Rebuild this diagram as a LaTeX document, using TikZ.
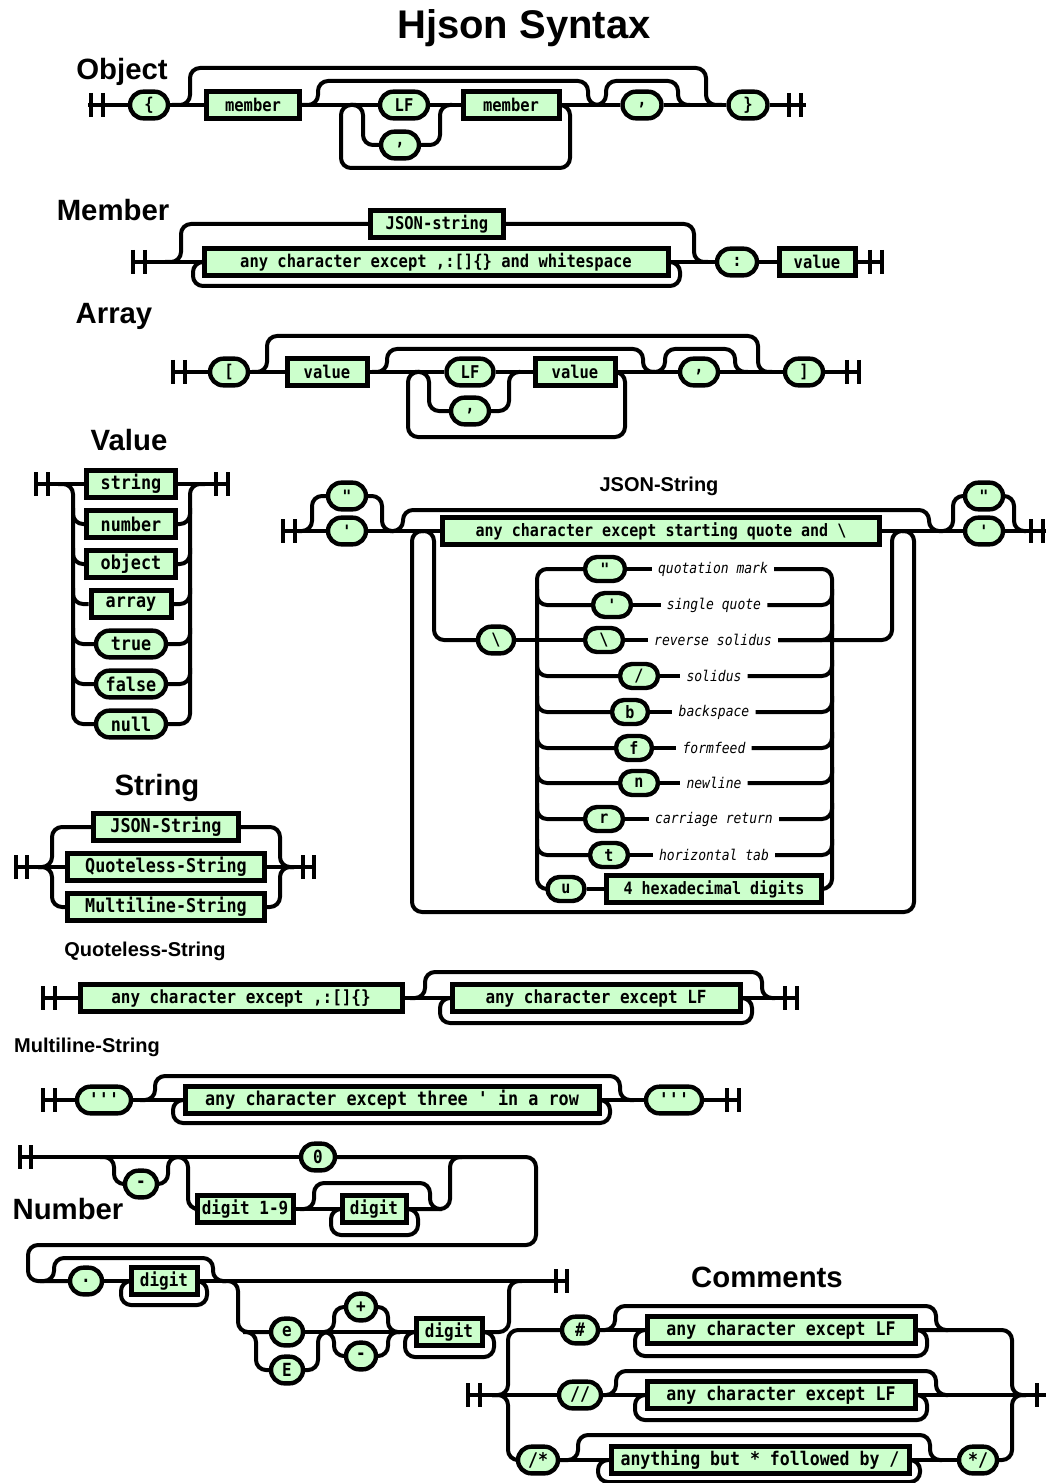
\documentclass[tikz,border=0pt]{standalone}
\usepackage{fontspec}
\setmonofont{DejaVu Sans Mono}[FakeStretch=0.88,BoldFont={DejaVu Sans Mono Bold},ItalicFont={DejaVu Sans Mono Oblique},BoldItalicFont={DejaVu Sans Mono Bold Oblique}]
\newfontfamily\hsans{Liberation Sans}
\definecolor{boxgreen}{RGB}{204,255,204}
\pgfdeclarelayer{bg}
\pgfsetlayers{bg,main}
\def\fs{13.2}
\tikzset{
  ntb/.style={draw, line width=3.75pt, fill=boxgreen, inner sep=0pt, minimum height=20.25pt, font=\ttfamily\bfseries\fontsize{\fs}{\fs}\selectfont},
  tmb/.style={draw, line width=3.3pt, fill=boxgreen, rounded corners=10pt, inner sep=0pt, minimum height=20pt, font=\ttfamily\bfseries\fontsize{\fs}{\fs}\selectfont},
  esc/.style={minimum height=18pt, rounded corners=9pt},
  lbl/.style={inner xsep=4.5pt, inner ysep=0pt, font=\ttfamily\itshape\fontsize{11.1}{12}\selectfont},
  rail/.style={line width=3pt, rounded corners=7.5pt},
  barl/.style={line width=3pt},
  ttl/.style={font=\hsans\bfseries\fontsize{22}{24}\selectfont},
  sttl/.style={font=\hsans\bfseries\fontsize{15}{17}\selectfont},
}
\newcommand\ntbox[5]{\node[ntb, minimum width={#4*0.75pt}] (#1) at (#2,#3) {#5};}
\newcommand\tmbox[5]{\node[tmb, minimum width={#4*0.75pt}] (#1) at (#2,#3) {#5};}
\newcommand\escbox[5]{\node[tmb, esc, minimum width={#4*0.75pt}] (#1) at (#2,#3) {#5};}
\newcommand\rbar[2]{\draw[barl] (#1,#2-12) -- (#1,#2+12);}
\begin{document}
\begin{tikzpicture}[x=0.75pt,y=-0.75pt]
\useasboundingbox (0,0) rectangle (1045,1483);
\begin{pgfonlayer}{bg}
\fill[white] (0,0) rectangle (1045,1483);
\end{pgfonlayer}
% titles
\node[font=\hsans\bfseries\fontsize{30}{34}\selectfont] (title) at (524,28) {Hjson Syntax};
\node[ttl] (tObj) at (122,72) {Object};
\node[ttl] (tMem) at (113,210) {Member};
\node[ttl] (tArr) at (114,316) {Array};
\node[ttl] (tVal) at (129,440) {Value};
\node[ttl] (tStr) at (157,788) {String};
\node[ttl] (tNum) at (68,1209) {Number};
\node[ttl] (tCom) at (767,1277) {Comments};
\node[sttl] (tJS) at (659,486) {JSON-String};
\node[sttl] (tQS) at (145,951) {Quoteless-String};
\node[sttl] (tMS) at (87,1047) {Multiline-String};

% ---------------- Object
\def\fs{13.2}
\tmbox{oL}{149}{105}{38}{\{}
\ntbox{oM1}{253}{105}{93}{member}
\tmbox{oLF}{404}{105}{48}{LF}
\tmbox{oC1}{400}{145}{38}{,}
\ntbox{oM2}{511}{105}{96}{member}
\tmbox{oC2}{642}{105}{39}{,}
\tmbox{oR}{748}{105}{39}{\}}
\begin{pgfonlayer}{bg}
\draw[rail] (88,105) -- (oL.west);
\draw[rail] (oL.east) -- (oM1.west);
\draw[rail] (172,105) -- (190,105) -- (190,68) -- (706,68) -- (706,105) -- (722,105);
\draw[rail] (oM1.east) -- (oLF.west);
\draw[rail] (302,105) -- (318,105) -- (318,81) -- (588,81) -- (588,105) -- (600,105);
\draw[rail] (350,105) -- (363,105) -- (363,145) -- (oC1.west);
\draw[rail] (oC1.east) -- (440,145) -- (440,105) -- (452,105);
\draw[rail] (oLF.east) -- (oM2.west);
\draw[rail] (oM2.east) -- (570,105) -- (570,168) -- (341,168) -- (341,105) -- (356,105);
\draw[rail] (oM2.east) -- (oC2.west);
\draw[rail] (596,105) -- (606,105) -- (606,81) -- (678,81) -- (678,105) -- (690,105);
\draw[rail] (oC2.east) -- (oR.west);
\draw[rail] (oR.east) -- (806,105);
\end{pgfonlayer}
\rbar{91}{105}\rbar{103}{105}\rbar{789}{105}\rbar{801}{105}

% ---------------- Member
\ntbox{mJ}{437}{224}{133}{JSON-string}
\ntbox{mA}{436}{262}{464}{any character except ,:[]\{\} and whitespace}
\tmbox{mC}{737}{262}{40}{:}
\ntbox{mV}{817}{262}{76}{value}
\begin{pgfonlayer}{bg}
\draw[rail] (131,262) -- (mA.west);
\draw[rail] (165,262) -- (181,262) -- (181,224) -- (mJ.west);
\draw[rail] (mJ.east) -- (694,224) -- (694,262) -- (708,262);
\draw[rail] (mA.east) -- (680,262) -- (680,286) -- (193,286) -- (193,262) -- (mA.west);
\draw[rail] (mA.east) -- (mC.west);
\draw[rail] (mC.east) -- (mV.west);
\draw[rail] (mV.east) -- (884,262);
\end{pgfonlayer}
\rbar{133}{262}\rbar{145}{262}\rbar{870}{262}\rbar{882}{262}

% ---------------- Array
\tmbox{aL}{229}{372}{38}{[}
\ntbox{aV1}{327}{372}{80}{value}
\tmbox{aLF}{470}{372}{47}{LF}
\tmbox{aC1}{470}{411}{38}{,}
\ntbox{aV2}{575}{372}{80}{value}
\tmbox{aC2}{699}{372}{38}{,}
\tmbox{aR}{804}{372}{38}{]}
\begin{pgfonlayer}{bg}
\draw[rail] (172,372) -- (aL.west);
\draw[rail] (aL.east) -- (aV1.west);
\draw[rail] (252,372) -- (267,372) -- (267,336) -- (758,336) -- (758,372) -- (772,372);
\draw[rail] (aV1.east) -- (aLF.west);
\draw[rail] (372,372) -- (387,372) -- (387,349) -- (643,349) -- (643,372) -- (655,372);
\draw[rail] (aV2.east) -- (625,372) -- (625,437) -- (408,437) -- (408,372) -- (420,372);
\draw[rail] (415,372) -- (429,372) -- (429,411) -- (aC1.west);
\draw[rail] (aC1.east) -- (509,411) -- (509,372) -- (520,372);
\draw[rail] (aLF.east) -- (aV2.west);
\draw[rail] (aV2.east) -- (aC2.west);
\draw[rail] (652,372) -- (665,372) -- (665,349) -- (735,349) -- (735,372) -- (748,372);
\draw[rail] (aC2.east) -- (aR.west);
\draw[rail] (aR.east) -- (860,372);
\end{pgfonlayer}
\rbar{173}{372}\rbar{185}{372}\rbar{847}{372}\rbar{859}{372}

% ---------------- Value
\def\fs{14.3}
\ntbox{vS}{131}{484}{89}{string}
\ntbox{vN}{131}{524}{89}{number}
\ntbox{vO}{131}{564}{89}{object}
\ntbox{vA}{131}{604}{80}{array}
\tmbox{vT}{131}{644}{70}{true}
\tmbox{vF}{131}{684}{70}{false}
\tmbox{vU}{131}{724}{70}{null}
\begin{pgfonlayer}{bg}
\draw[rail] (36,484) -- (vS.west);
\draw[rail] (vS.east) -- (228,484);
\draw[rail] (58,484) -- (73,484) -- (73,724) -- (vU.west);
\draw[rail] (vU.east) -- (190,724) -- (190,484) -- (205,484);
\foreach \n/\y in {vN/524,vO/564,vA/604,vT/644,vF/684}{
  \draw[rail] (73,\y-16) -- (73,\y) -- (\n.west);
  \draw[rail] (\n.east) -- (190,\y) -- (190,\y-16);
}
\end{pgfonlayer}
\rbar{36}{484}\rbar{48}{484}\rbar{216}{484}\rbar{228}{484}

% ---------------- JSON-String
\def\fs{12.8}
\tmbox{jQ1}{347}{496}{38}{"}
\tmbox{jA1}{347}{531}{38}{'}
\ntbox{jAny}{661}{531}{437}{any character except starting quote and \textbackslash}
\tmbox{jBS}{496}{640}{36}{\textbackslash}
\tmbox{jQ2}{984}{496}{38}{"}
\tmbox{jA2}{984}{531}{38}{'}
\escbox{e1}{605}{569}{40}{"}
\escbox{e2}{612}{605}{38}{'}
\escbox{e3}{604}{640}{38}{\textbackslash}
\escbox{e4}{639}{676}{38}{/}
\escbox{e5}{630}{712}{36}{b}
\escbox{e6}{634}{748}{36}{f}
\escbox{e7}{639}{783}{38}{n}
\escbox{e8}{604}{819}{38}{r}
\escbox{e9}{609}{855}{38}{t}
\escbox{e10}{566}{889}{37}{u}
\ntbox{hex}{714}{889}{215}{4 hexadecimal digits}
\node[lbl] (l1) at (713,569) {quotation mark};
\node[lbl] (l2) at (714,605) {single quote};
\node[lbl] (l3) at (713,640) {reverse solidus};
\node[lbl] (l4) at (714,676) {solidus};
\node[lbl] (l5) at (714,712) {backspace};
\node[lbl] (l6) at (714,748) {formfeed};
\node[lbl] (l7) at (714,783) {newline};
\node[lbl] (l8) at (714,819) {carriage return};
\node[lbl] (l9) at (714,855) {horizontal tab};
\begin{pgfonlayer}{bg}
\draw[rail] (283,531) -- (jA1.west);
\draw[rail] (298,531) -- (312,531) -- (312,496) -- (jQ1.west);
\draw[rail] (jQ1.east) -- (382,496) -- (382,531) -- (394,531);
\draw[rail] (jA1.east) -- (jAny.west);
\draw[rail] (390,531) -- (403,531) -- (403,510) -- (929,510) -- (929,531) -- (941,531);
\draw[rail] (902,531) -- (914,531) -- (914,912) -- (412,912) -- (412,531) -- (424,531);
\draw[rail] (420,531) -- (434,531) -- (434,640) -- (jBS.west);
\draw[rail] (jAny.east) -- (jA2.west);
\draw[rail] (jBS.east) -- (e3.west);
\draw[rail] (e1.west) -- (537,569) -- (537,889) -- (e10.west);
\draw[rail] (l1.east) -- (832,569) -- (832,889) -- (hex.east);
\draw[rail] (e1.east) -- (l1.west);
\draw[rail] (e10.east) -- (hex.west);
\foreach \k/\y in {2/605,3/640,4/676,5/712,6/748,7/783,8/819,9/855}{
  \draw[rail] (e\k.east) -- (l\k.west);
  \draw[rail] (l\k.east) -- (832,\y) -- (832,\y-16);
}
\foreach \k/\y in {2/605,4/676,5/712,6/748,7/783,8/819,9/855}{
  \draw[rail] (537,\y-16) -- (537,\y) -- (e\k.west);
}
\draw[rail] (l3.east) -- (892,640) -- (892,531) -- (906,531);
\draw[rail] (941,531) -- (953,531) -- (953,496) -- (jQ2.west);
\draw[rail] (jQ2.east) -- (1014,496) -- (1014,531) -- (1026,531);
\draw[rail] (jA2.east) -- (1050,531);
\end{pgfonlayer}
\rbar{283}{531}\rbar{295}{531}\rbar{1031}{531}\rbar{1043}{531}

% ---------------- String
\def\fs{14.3}
\ntbox{sJ}{166}{827}{145}{JSON-String}
\ntbox{sQ}{166}{867}{197}{Quoteless-String}
\ntbox{sM}{166}{907}{197}{Multiline-String}
\begin{pgfonlayer}{bg}
\draw[rail] (15,867) -- (sQ.west);
\draw[rail] (38,867) -- (52,867) -- (52,827) -- (sJ.west);
\draw[rail] (38,867) -- (52,867) -- (52,907) -- (sM.west);
\draw[rail] (sJ.east) -- (280,827) -- (280,867) -- (294,867);
\draw[rail] (sM.east) -- (280,907) -- (280,867) -- (294,867);
\draw[rail] (sQ.east) -- (314,867);
\end{pgfonlayer}
\rbar{16}{867}\rbar{27}{867}\rbar{303}{867}\rbar{314}{867}

% ---------------- Quoteless-String
\def\fs{13.6}
\ntbox{qA}{241}{998}{322}{any character except ,:[]\{\}}
\ntbox{qB}{596}{998}{288}{any character except LF}
\begin{pgfonlayer}{bg}
\draw[rail] (43,998) -- (qA.west);
\draw[rail] (qA.east) -- (qB.west);
\draw[rail] (410,998) -- (425,998) -- (425,972) -- (762,972) -- (762,998) -- (775,998);
\draw[rail] (qB.east) -- (752,998) -- (752,1023) -- (440,1023) -- (440,998) -- (qB.west);
\draw[rail] (qB.east) -- (797,998);
\end{pgfonlayer}
\rbar{43}{998}\rbar{55}{998}\rbar{785}{998}\rbar{797}{998}

% ---------------- Multiline-String
\def\fs{14.3}
\tmbox{mT1}{104}{1100}{54}{'''}
\ntbox{mB}{392}{1100}{414}{any character except three ' in a row}
\tmbox{mT2}{674}{1100}{56}{'''}
\begin{pgfonlayer}{bg}
\draw[rail] (43,1100) -- (mT1.west);
\draw[rail] (mT1.east) -- (mB.west);
\draw[rail] (140,1100) -- (155,1100) -- (155,1076) -- (620,1076) -- (620,1100) -- (634,1100);
\draw[rail] (mB.east) -- (610,1100) -- (610,1123) -- (173,1123) -- (173,1100) -- (mB.west);
\draw[rail] (mB.east) -- (mT2.west);
\draw[rail] (mT2.east) -- (739,1100);
\end{pgfonlayer}
\rbar{43}{1100}\rbar{55}{1100}\rbar{727}{1100}\rbar{739}{1100}

% ---------------- Number
\def\fs{13.6}
\tmbox{nZ}{318}{1157}{34}{0}
\tmbox{nMi}{141}{1184}{32}{-}
\ntbox{nD19}{245}{1209}{96}{digit 1-9}
\ntbox{nDg}{374}{1209}{64}{digit}
\tmbox{nDot}{86}{1281}{32}{.}
\ntbox{nFd}{164}{1281}{66}{digit}
\tmbox{ne}{287}{1332}{32}{e}
\tmbox{nE}{287}{1370}{32}{E}
\tmbox{nP}{361}{1307}{30}{+}
\tmbox{nM}{361}{1356}{30}{-}
\ntbox{nXd}{449}{1332}{66}{digit}
\begin{pgfonlayer}{bg}
\draw[rail] (20,1157) -- (nZ.west);
\draw[rail] (100,1157) -- (114,1157) -- (114,1184) -- (nMi.west);
\draw[rail] (nMi.east) -- (168,1184) -- (168,1157) -- (180,1157);
\draw[rail] (175,1157) -- (188,1157) -- (188,1209) -- (nD19.west);
\draw[rail] (nD19.east) -- (nDg.west);
\draw[rail] (300,1209) -- (314,1209) -- (314,1183) -- (430,1183) -- (430,1209) -- (442,1209);
\draw[rail] (nDg.east) -- (418,1209) -- (418,1235) -- (331,1235) -- (331,1209) -- (nDg.west);
\draw[rail] (nDg.east) -- (450,1209) -- (450,1157) -- (462,1157);
\draw[rail] (nZ.east) -- (536,1157) -- (536,1245) -- (28,1245) -- (28,1281) -- (nDot.west);
\draw[rail] (40,1281) -- (54,1281) -- (54,1258) -- (213,1258) -- (213,1281) -- (226,1281);
\draw[rail] (nDot.east) -- (nFd.west);
\draw[rail] (nFd.east) -- (207,1281) -- (207,1305) -- (121,1305) -- (121,1281) -- (nFd.west);
\draw[rail] (nFd.east) -- (567,1281);
\draw[rail] (222,1281) -- (238,1281) -- (238,1332) -- (ne.west);
\draw[rail] (243,1332) -- (256,1332) -- (256,1370) -- (nE.west);
\draw[rail] (nE.east) -- (318,1370) -- (318,1332) -- (330,1332);
\draw[rail] (ne.east) -- (nXd.west);
\draw[rail] (322,1332) -- (334,1332) -- (334,1307) -- (nP.west);
\draw[rail] (322,1332) -- (334,1332) -- (334,1356) -- (nM.west);
\draw[rail] (nP.east) -- (388,1307) -- (388,1332) -- (400,1332);
\draw[rail] (nM.east) -- (388,1356) -- (388,1332) -- (400,1332);
\draw[rail] (nXd.east) -- (494,1332) -- (494,1357) -- (405,1357) -- (405,1332) -- (nXd.west);
\draw[rail] (nXd.east) -- (509,1332) -- (509,1281) -- (522,1281);
\end{pgfonlayer}
\rbar{20}{1157}\rbar{31}{1157}\rbar{556}{1281}\rbar{567}{1281}

% ---------------- Comments
\def\fs{14.1}
\tmbox{cH}{580}{1330}{36}{\#}
\ntbox{cB1}{781}{1330}{268}{any character except LF}
\tmbox{cS}{580}{1395}{42}{//}
\ntbox{cB2}{781}{1395}{268}{any character except LF}
\tmbox{cSt}{538}{1460}{40}{/*}
\ntbox{cB3}{760}{1460}{298}{anything but * followed by /}
\tmbox{cE}{978}{1460}{38}{*/}
\begin{pgfonlayer}{bg}
\draw[rail] (468,1395) -- (cS.west);
\draw[rail] (492,1395) -- (508,1395) -- (508,1330) -- (cH.west);
\draw[rail] (492,1395) -- (508,1395) -- (508,1460) -- (cSt.west);
\draw[rail] (cH.east) -- (cB1.west);
\draw[rail] (600,1330) -- (615,1330) -- (615,1306) -- (936,1306) -- (936,1330) -- (948,1330);
\draw[rail] (cB1.east) -- (927,1330) -- (927,1356) -- (635,1356) -- (635,1330) -- (cB1.west);
\draw[rail] (cB1.east) -- (1012,1330) -- (1012,1395) -- (1026,1395);
\draw[rail] (cS.east) -- (cB2.west);
\draw[rail] (603,1395) -- (616,1395) -- (616,1371) -- (936,1371) -- (936,1395) -- (948,1395);
\draw[rail] (cB2.east) -- (927,1395) -- (927,1420) -- (635,1420) -- (635,1395) -- (cB2.west);
\draw[rail] (cB2.east) -- (1050,1395);
\draw[rail] (cSt.east) -- (cB3.west);
\draw[rail] (560,1460) -- (578,1460) -- (578,1435) -- (930,1435) -- (930,1460) -- (942,1460);
\draw[rail] (cB3.east) -- (920,1460) -- (920,1482) -- (598,1482) -- (598,1460) -- (cB3.west);
\draw[rail] (cB3.east) -- (cE.west);
\draw[rail] (cE.east) -- (1012,1460) -- (1012,1395) -- (1026,1395);
\end{pgfonlayer}
\rbar{468}{1395}\rbar{480}{1395}\rbar{1037}{1395}\rbar{1049}{1395}
\end{tikzpicture}
\end{document}
